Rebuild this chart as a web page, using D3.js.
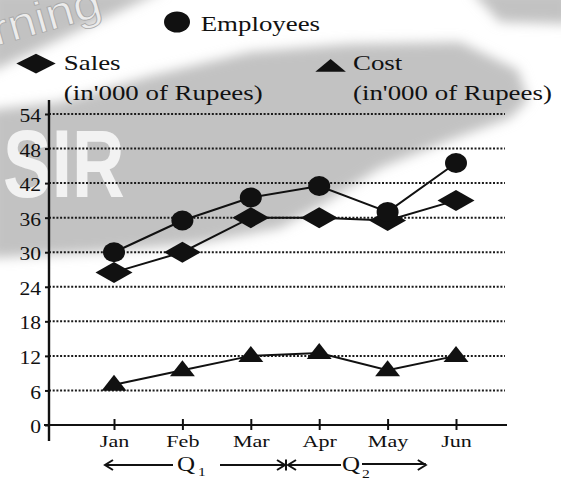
<!DOCTYPE html>
<html>
<head>
<meta charset="utf-8">
<script src="https://cdn.jsdelivr.net/npm/d3@7"></script>
<style>
  html, body { margin: 0; padding: 0; background: #fff; }
  svg { display: block; }
  .serif text, text.serif { font-family: "Liberation Serif", "Times New Roman", Times, "DejaVu Serif", serif; }
</style>
</head>
<body>
<svg id="chart" width="561" height="481"></svg>
<script>
// ---- data ----
const months    = ["Jan", "Feb", "Mar", "Apr", "May", "Jun"];
const employees = [30, 35.5, 39.5, 41.5, 37, 45.5];
const sales     = [26.5, 30, 36, 36, 35.5, 39];
const cost      = [7, 9.5, 12, 12.5, 9.5, 12];
const yTicks    = [0, 6, 12, 18, 24, 30, 36, 42, 48, 54];
const seriesNames = ["Employees", "Sales", "Cost"];
const unitNote  = "(in'000 of Rupees)";
const quarters  = ["Q", "Q"];
const quarterSubs = ["1", "2"];

// ---- layout ----
const INK = "#111";
const SERIF = '"Liberation Serif", "Times New Roman", Times, "DejaVu Serif", serif';
const axisX = 49, axisY = 425;

const svg = d3.select("#chart");
const defs = svg.append("defs");
defs.append("filter").attr("id", "soft")
  .attr("x", "-20%").attr("y", "-20%").attr("width", "140%").attr("height", "140%")
  .append("feGaussianBlur").attr("stdDeviation", 6);

// soft grey backdrop swoosh
const bg = svg.append("g");
bg.append("g").attr("filter", "url(#soft)").call(g => {
  g.append("path").attr("fill", "#c2c2c2")
    .attr("d", "M-10,-10 L165,-10 L-10,72 Z");
  g.append("path").attr("fill", "#c2c2c2")
    .attr("d", "M470,-10 L571,-10 L571,24 L500,22 Z");
  g.append("path").attr("fill", "#c2c2c2")
    .attr("d", "M-10,110 L60,102 L150,76 L250,52 L350,44 L460,42 L518,70 L528,100 " +
               "L510,118 L450,140 L380,168 L330,200 L280,228 L200,243 L100,252 L-10,258 Z");
});
bg.append("text")
  .attr("transform", "translate(-4,46) rotate(-16) scale(1.15,1)")
  .style("font-family", '"Liberation Sans", Arial, sans-serif')
  .attr("font-size", 44).attr("fill", "#ececec").attr("stroke", "#a8a8a8").attr("stroke-width", 0.8)
  .text("rning");
bg.append("text")
  .attr("transform", "translate(3,197) scale(0.76,1)")
  .style("font-family", '"Liberation Sans", Arial, sans-serif').attr("font-weight", "bold")
  .attr("font-size", 96).attr("fill", "#f2f2f2")
  .text("SIR");

// text stretched a little horizontally, like the printed figure
function wideText(sel, x, y, str, size, sx, anchor) {
  return sel.append("text").attr("class", "serif")
    .attr("transform", `translate(${x},${y}) scale(${sx},1)`)
    .style("font-family", SERIF).attr("font-size", size).attr("fill", INK)
    .attr("text-anchor", anchor || "start")
    .text(str);
}

// ---- scales ----
const x = d3.scalePoint().domain(months).range([114, 456]);
const y = d3.scaleLinear().domain([0, 54]).range([axisY, 114]);

// ---- grid ----
svg.append("g").selectAll("line")
  .data(yTicks.filter(d => d > 0))
  .join("line")
  .attr("x1", axisX).attr("x2", 505)
  .attr("y1", d => y(d)).attr("y2", d => y(d))
  .attr("stroke", "#1a1a1a").attr("stroke-width", 2)
  .attr("stroke-dasharray", "2,1.7");

// ---- y axis ----
const yS = 1.2;
const gy = svg.append("g").attr("class", "serif").attr("transform", `translate(${axisX},0)`)
  .call(d3.axisLeft(y).tickValues(yTicks).tickSize(4).tickFormat(d3.format("d")));
gy.select(".domain").remove();
gy.attr("font-family", null).attr("font-size", 18);
gy.selectAll(".tick line").attr("stroke", INK).attr("stroke-width", 2);
gy.selectAll(".tick text")
  .style("font-family", SERIF)
  .attr("fill", INK).attr("x", -8 / yS).attr("dy", "0.42em")
  .attr("transform", `scale(${yS},1)`);
svg.append("line")
  .attr("x1", axisX).attr("x2", axisX).attr("y1", 100).attr("y2", 441)
  .attr("stroke", INK).attr("stroke-width", 2.4);

// ---- x axis ----
const xS = 1.3;
const gx = svg.append("g").attr("class", "serif").attr("transform", `translate(0,${axisY})`)
  .call(d3.axisBottom(x).tickSize(11));
gx.select(".domain").remove();
gx.attr("font-family", null).attr("font-size", 17);
gx.selectAll(".tick line").attr("y1", -6).attr("y2", 5).attr("stroke", INK).attr("stroke-width", 2);
gx.selectAll(".tick text")
  .style("font-family", SERIF)
  .attr("fill", INK).attr("y", 21.7).attr("dy", 0)
  .attr("transform", `scale(${xS},1)`);
svg.append("line")
  .attr("x1", 44).attr("x2", 507).attr("y1", axisY).attr("y2", axisY)
  .attr("stroke", INK).attr("stroke-width", 2.2);

// ---- series ----
const toPts = vals => months.map((m, i) => ({ m, v: vals[i] }));
const line = d3.line().x(d => x(d.m)).y(d => y(d.v));
const series = [
  { vals: cost, shape: "tri" },
  { vals: sales, shape: "dia" },
  { vals: employees, shape: "dot" }
];
series.forEach(s => {
  svg.append("path").datum(toPts(s.vals))
    .attr("d", line).attr("fill", "none")
    .attr("stroke", INK).attr("stroke-width", 2);
});
const shapes = {
  tri: "M0,-10L12.5,6L-12.5,6Z",
  dia: "M-18.5,0L0,-10.5L18.5,0L0,10.5Z"
};
series.forEach(s => {
  const g = svg.append("g");
  const pts = toPts(s.vals);
  if (s.shape === "dot") {
    g.selectAll("ellipse").data(pts).join("ellipse")
      .attr("cx", d => x(d.m)).attr("cy", d => y(d.v))
      .attr("rx", 11).attr("ry", 10).attr("fill", INK);
  } else {
    g.selectAll("path").data(pts).join("path")
      .attr("transform", d => `translate(${x(d.m)},${y(d.v)})`)
      .attr("d", shapes[s.shape]).attr("fill", INK);
  }
});

// ---- legend ----
const lg = svg.append("g");
const lS = 1.25, lF = 21.5;
lg.append("ellipse").attr("cx", 177).attr("cy", 22).attr("rx", 13).attr("ry", 10.5).attr("fill", INK);
wideText(lg, 200.7, 30.5, seriesNames[0], lF, lS);
lg.append("path").attr("transform", "translate(36,63.6)")
  .attr("d", "M-19.7,0L0,-9.9L19.7,0L0,9.9Z").attr("fill", INK);
wideText(lg, 63.8, 70, seriesNames[1], lF, lS);
wideText(lg, 63.8, 100, unitNote, lF, lS);
lg.append("path").attr("transform", "translate(330.6,0)")
  .attr("d", "M0,59L15.3,71.7L-15.3,71.7Z").attr("fill", INK);
wideText(lg, 353, 70, seriesNames[2], lF, lS);
wideText(lg, 353, 100, unitNote, lF, lS);

// ---- quarter spans below the axis ----
const qy = 465;
const qg = svg.append("g").attr("stroke", INK).attr("stroke-width", 2).attr("fill", "none");
function head(px, dir) {
  qg.append("path").attr("d", `M${px + dir * 8},${qy - 5}L${px},${qy}L${px + dir * 8},${qy + 5}`);
}
function seg(a, b, yy) {
  qg.append("line").attr("x1", a).attr("x2", b).attr("y1", yy || qy).attr("y2", yy || qy);
}
const q1Left = x("Jan") - 9;
const split = (x("Mar") + x("Apr")) / 2 + 1;
const q2Right = (x("May") + x("Jun")) / 2 + 4;
const q1Label = q1Left + 72;
const q2Label = split + 56;

// Q1
seg(q1Left, q1Label - 4); head(q1Left, 1);
seg(q1Label + 43, split - 1); head(split - 1, -1);
qg.append("line").attr("x1", split).attr("x2", split).attr("y1", qy - 5.5).attr("y2", qy + 5.5);
// Q2
seg(split + 2, q2Label - 1); head(split + 2, 1);
seg(q2Label + 20, q2Right, qy - 1); head(q2Right, -1);

wideText(svg, q1Label, 471, quarters[0], 20, 1.25);
wideText(svg, q1Label + 21, 476, quarterSubs[0], 13, 1.2);
wideText(svg, q2Label, 471, quarters[1], 20, 1.25);
wideText(svg, q2Label + 20, 478, quarterSubs[1], 13, 1.2);
</script>
</body>
</html>
